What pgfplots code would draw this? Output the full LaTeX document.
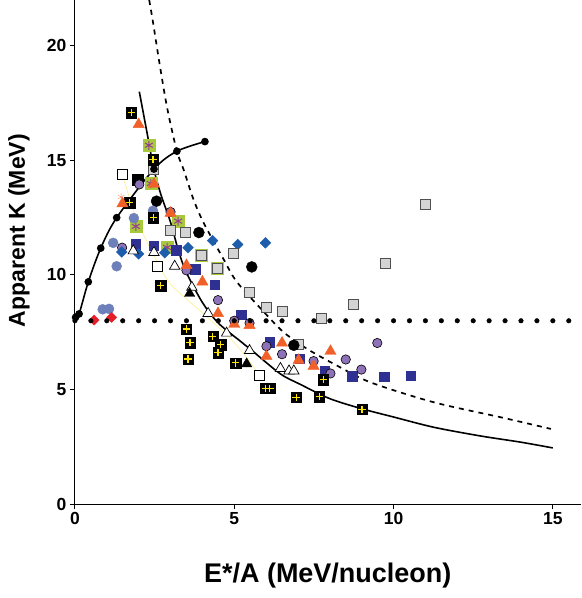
\documentclass[border=0pt]{standalone}
\usepackage{pgfplots}
\pgfplotsset{compat=1.18}
\usepackage{fontspec}
\setmainfont{Liberation Sans}
\definecolor{orng}{RGB}{242,96,42}
\definecolor{lgreen}{RGB}{168,200,60}
\definecolor{purpx}{RGB}{150,60,150}
\definecolor{purpc}{RGB}{142,114,184}
\definecolor{steel}{RGB}{110,128,186}
\definecolor{navy}{RGB}{46,49,146}
\definecolor{bdiam}{RGB}{30,92,172}
\definecolor{lgray}{RGB}{212,212,212}
\definecolor{dgray}{RGB}{80,80,80}
\definecolor{rdiam}{RGB}{230,30,40}
\definecolor{yplus}{RGB}{255,230,0}
\definecolor{ylin}{RGB}{252,240,150}
\begin{document}
\begin{tikzpicture}
\begin{axis}[
  scale only axis, width=506pt, height=504pt,
  xmin=0, xmax=15.87, ymin=0, ymax=21.98,
  axis x line*=bottom, axis y line*=left,
  axis line style={-, line width=0.9pt},
  xtick={0,5,10,15}, ytick={0,5,10,15,20},
  tick align=outside, major tick length=5pt,
  tick style={black, line width=0.9pt},
  /pgf/number format/assume math mode=true,
  ticklabel style={font=\bfseries\fontsize{17.5}{17.5}\selectfont},
  xlabel={E*/A (MeV/nucleon)},
  xlabel style={font=\bfseries\fontsize{27}{27}\selectfont, at={(axis description cs:0.5,-0.141)}, anchor=center},
  ylabel={Apparent K (MeV)},
  ylabel style={font=\bfseries\fontsize{23}{23}\selectfont, at={(axis description cs:-0.111,0.543)}, anchor=center},
]
% thin yellow line
\addplot[ylin, line width=0.7pt, smooth] coordinates {(1.48,14.4)(1.75,13.2)(2.0,12.2)(2.5,10.8)(3.0,9.6)(4.0,8.35)(5.0,7.05)(5.8,5.63)};
% green squares with purple asterisk
\addplot[only marks, mark=square*, mark size=6pt, draw=none, fill=lgreen, mark options={draw=lgreen}] coordinates {(2.32,15.66)(2.38,13.99)(1.91,12.12)(3.24,12.35)(2.89,11.2)(3.97,10.86)(4.47,10.3)};
\addplot[only marks, mark=asterisk, mark size=4.5pt, purpx, mark options={line width=1pt}] coordinates {(2.32,15.66)(2.38,13.99)(1.91,12.12)(3.24,12.35)(2.89,11.2)(3.97,10.86)(4.47,10.3)};
% navy squares
\addplot[only marks, mark=square*, mark size=4.7pt, mark options={draw=navy, fill=navy}] coordinates {(1.91,11.35)(2.48,11.27)(3.18,11.08)(3.77,10.25)(4.39,9.58)(5.22,8.27)(6.11,7.06)(7.05,6.35)(7.84,5.8)(8.7,5.58)(9.71,5.55)(10.53,5.6)};
% steel blue circles
\addplot[only marks, mark=*, mark size=5pt, mark options={draw=steel, fill=steel}] coordinates {(2.45,12.8)(1.85,12.48)(1.2,11.4)(1.31,10.38)(0.87,8.5)(1.07,8.52)};
% purple circles
\addplot[only marks, mark=*, mark size=4.7pt, mark options={draw=black, fill=purpc, line width=0.6pt}] coordinates {(1.48,11.19)(3.0,12.75)(3.5,10.2)(4.49,8.9)(5.0,8.0)(5.48,7.9)(6.01,6.89)(6.5,6.54)(7.49,6.24)(8.5,6.31)(8.02,5.7)(8.99,5.87)(9.49,7.03)};
% blue diamonds
\addplot[only marks, mark=square*, mark size=3.8pt, mark options={draw=bdiam, fill=bdiam, rotate=45}] coordinates {(1.47,11.0)(2.0,10.92)(2.82,10.97)(3.55,11.19)(4.32,11.5)(5.11,11.33)(5.98,11.4)};
% gray squares
\addplot[only marks, mark=square*, mark size=5pt, mark options={draw=dgray, fill=lgray, line width=1pt}] coordinates {(2.48,14.6)(3.0,11.95)(3.48,11.85)(3.97,10.86)(4.98,10.93)(4.47,10.28)(5.48,9.24)(6.01,8.58)(6.5,8.4)(7.75,8.12)(8.75,8.73)(9.75,10.52)(10.99,13.07)(7.02,6.98)};
% white squares
\addplot[only marks, mark=square*, mark size=5pt, mark options={draw=black, fill=white, line width=0.8pt}] coordinates {(1.48,14.4)(2.6,10.38)(5.8,5.63)};
% white triangles
\addplot[only marks, mark=triangle*, mark size=6pt, mark options={draw=black, fill=white, line width=0.7pt}] coordinates {(1.83,11.05)(2.48,10.98)(3.13,10.38)(3.67,9.46)(4.18,8.32)(4.76,7.46)(5.48,6.7)(6.45,5.92)(6.72,5.81)(6.87,5.81)};
% black triangles
\addplot[only marks, mark=triangle*, mark size=6pt, mark options={draw=black, fill=black}] coordinates {(3.6,9.19)(5.39,6.12)};
% black circles
\addplot[only marks, mark=*, mark size=5.5pt, mark options={draw=black, fill=black}] coordinates {(2.56,13.22)(3.89,11.85)(5.55,10.35)(6.87,6.93)};
% black squares with yellow plus
\addplot[only marks, mark=square*, mark size=5.2pt, mark options={draw=black, fill=black}] coordinates {(1.77,17.08)(2.45,15.03)(1.97,14.15)(1.72,13.15)(2.46,12.5)(2.69,9.53)(3.49,7.64)(4.33,7.32)(3.61,7.05)(4.57,6.95)(4.49,6.6)(3.55,6.33)(5.04,6.16)(5.97,5.05)(6.12,5.05)(6.94,4.66)(7.67,4.69)(7.8,5.42)(9.01,4.13)};
\addplot[only marks, mark=+, mark size=3.6pt, yplus, mark options={line width=1.1pt}] coordinates {(1.77,17.08)(2.45,15.03)(1.72,13.15)(2.46,12.5)(2.69,9.53)(3.49,7.64)(4.33,7.32)(3.61,7.05)(4.57,6.95)(4.49,6.6)(3.55,6.33)(5.04,6.16)(5.97,5.05)(6.12,5.05)(6.94,4.66)(7.67,4.69)(7.8,5.42)(9.01,4.13)};
% purple circle on top of black square
\addplot[only marks, mark=*, mark size=4.7pt, mark options={draw=black, fill=purpc, line width=0.6pt}] coordinates {(2.02,13.95)};
% orange star
\addplot[only marks, mark=asterisk, mark size=4pt, orng!70] coordinates {(1.45,13.4)};
% orange triangles
\addplot[only marks, mark=triangle*, mark size=6.5pt, mark options={draw=orng, fill=orng}] coordinates {(2.0,16.57)(2.48,13.96)(1.49,13.11)(3.0,12.7)(3.5,10.42)(4.0,9.7)(4.49,8.32)(5.0,7.85)(5.48,7.8)(6.5,7.03)(6.01,6.45)(7.02,6.28)(7.49,6.02)(8.02,6.67)};
% red diamonds
\addplot[only marks, mark=square*, mark size=3.6pt, mark options={draw=rdiam, fill=rdiam, rotate=45}] coordinates {(0.6,8.03)(1.15,8.15)};
% dotted horizontal line
\addplot[only marks, mark=*, mark size=2.3pt, black] coordinates {(0,8)(0.5,8)(1,8)(1.5,8)(2,8)(2.5,8)(3,8)(3.5,8)(4,8)(4.5,8)(5,8)(5.5,8)(6,8)(6.5,8)(7,8)(7.5,8)(8,8)(8.5,8)(9,8)(9.5,8)(10,8)(10.5,8)(11,8)(11.5,8)(12,8)(12.5,8)(13,8)(13.5,8)(14,8)(14.5,8)(15,8)(15.5,8)};
% dashed curve
\addplot[black, line width=1.7pt, dash pattern=on 5pt off 5pt, smooth] coordinates {(2.33,22.0)(2.43,21.2)(2.67,19.1)(2.9,17.25)(3.2,15.4)(3.41,14.6)(3.72,13.3)(4.03,12.3)(4.66,10.7)(5.08,9.7)(5.92,8.4)(6.55,7.5)(7.29,6.77)(8.23,6.04)(9.28,5.31)(11.27,4.44)(13.36,3.79)(14.94,3.28)};
% solid descending line
\addplot[black, line width=1.6pt, smooth] coordinates {(2.02,18.0)(2.25,16.3)(2.48,14.6)(2.7,13.5)(3.0,12.3)(3.25,11.05)(3.5,10.1)(4.0,8.8)(4.5,7.9)(5.2,7.1)(5.6,6.65)(6.45,5.68)(7.08,5.22)(8.0,4.6)(9.03,4.15)(10.0,3.8)(11.27,3.35)(12.74,2.97)(14.0,2.7)(15.0,2.45)};
% solid rising curve with dots
\addplot[black, line width=1.6pt, smooth, mark=*, mark size=3pt, mark options={fill=black}] coordinates {(0.02,8.15)(0.13,8.3)(0.42,9.7)(0.81,11.17)(1.31,12.5)(2.48,14.62)(3.2,15.4)(4.08,15.82)};
\end{axis}
\path ([shift={(-75pt,-94pt)}]current axis.south west) rectangle (current axis.north east);
\end{tikzpicture}
\end{document}
